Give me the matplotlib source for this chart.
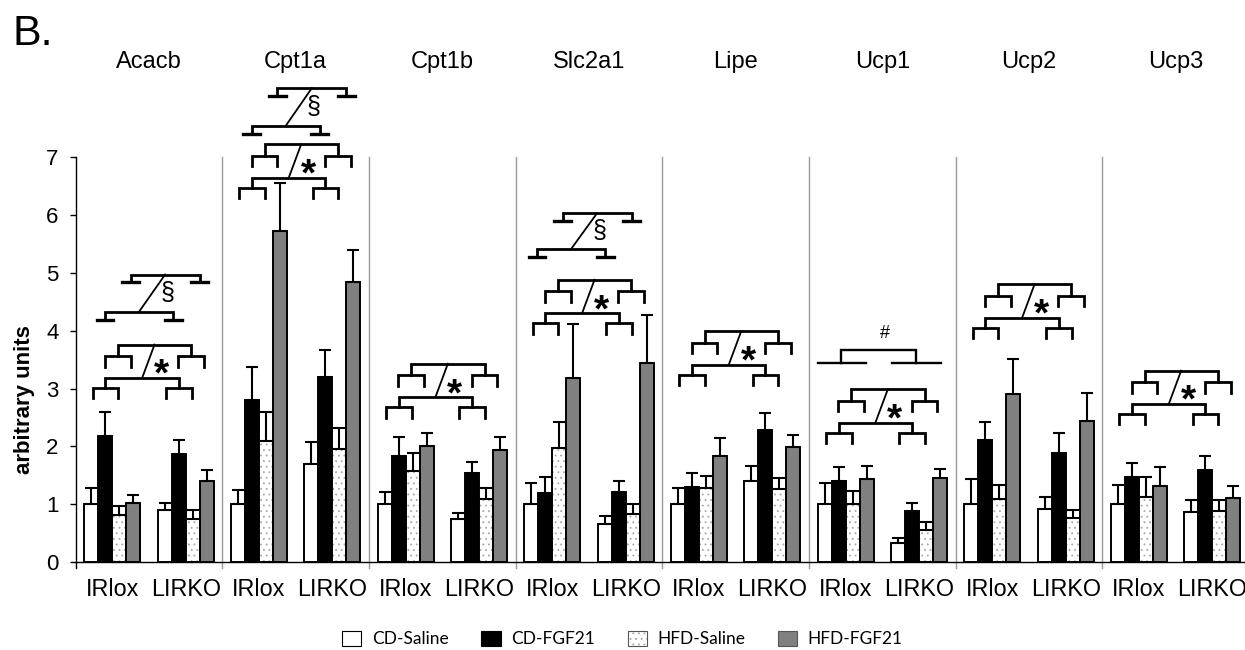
import matplotlib
matplotlib.use("Agg")
import matplotlib.pyplot as plt
import matplotlib.transforms as mtransforms
from matplotlib.patches import Patch
import numpy as np

# ---------------- data ----------------
genes = ["Acacb", "Cpt1a", "Cpt1b", "Slc2a1", "Lipe", "Ucp1", "Ucp2", "Ucp3"]
genotypes = ["IRlox", "LIRKO"]
series_names = ["CD-Saline", "CD-FGF21", "HFD-Saline", "HFD-FGF21"]

# values ordered gene by gene: (IRlox, LIRKO)
cd_saline = [1.00, 0.90, 1.00, 1.69, 1.00, 0.75, 1.00, 0.66,
             1.00, 1.41, 1.00, 0.33, 1.00, 0.92, 1.00, 0.87]
cd_saline_err = [0.28, 0.13, 0.25, 0.38, 0.21, 0.11, 0.37, 0.14,
                 0.28, 0.26, 0.37, 0.09, 0.44, 0.20, 0.34, 0.20]
cd_fgf21 = [2.18, 1.87, 2.80, 3.20, 1.83, 1.55, 1.19, 1.22,
            1.30, 2.28, 1.40, 0.88, 2.11, 1.89, 1.47, 1.59]
cd_fgf21_err = [0.41, 0.24, 0.57, 0.47, 0.33, 0.18, 0.28, 0.18,
                0.25, 0.29, 0.24, 0.15, 0.31, 0.34, 0.25, 0.24]
hfd_saline = [0.82, 0.75, 2.09, 1.96, 1.58, 1.09, 1.97, 0.83,
              1.29, 1.26, 1.00, 0.55, 1.10, 0.76, 1.12, 0.88]
hfd_saline_err = [0.16, 0.15, 0.50, 0.36, 0.30, 0.19, 0.46, 0.18,
                  0.20, 0.19, 0.24, 0.15, 0.24, 0.14, 0.36, 0.19]
hfd_fgf21 = [1.02, 1.41, 5.73, 4.84, 2.01, 1.94, 3.18, 3.44,
             1.84, 1.99, 1.44, 1.45, 2.91, 2.44, 1.31, 1.11]
hfd_fgf21_err = [0.14, 0.18, 0.82, 0.56, 0.22, 0.22, 0.93, 0.83,
                 0.30, 0.21, 0.23, 0.16, 0.60, 0.49, 0.33, 0.21]

# significance annotation levels (data units)
star_levels = [3.01, 6.47, 2.68, 4.13, 3.24, 2.24, 4.05, 2.56]
section_genes = [0, 1, 3]
section_low = [4.33, 7.54, 5.41]
section_high = [4.97, 8.19, 6.03]
hash_gene = 5
hash_level = 3.66

# ---------------- style ----------------
plt.rcParams["font.family"] = ["Liberation Sans", "DejaVu Sans"]
plt.rcParams["hatch.linewidth"] = 0.6

W, H = 1245, 650
fig = plt.figure(figsize=(W / 100, H / 100), dpi=100)
ax = fig.add_axes([75.7 / W, (H - 562.3) / H, 1173.3 / W, 405.3 / H])

n = len(genes) * 2
x = np.arange(n)
bw = 0.191
offs = [-1.5 * bw, -0.5 * bw, 0.5 * bw, 1.5 * bw]
zeros = [0] * n

ax.bar(x + offs[0], cd_saline, bw, color="white", edgecolor="black", lw=1.4, zorder=2)
ax.bar(x + offs[1], cd_fgf21, bw, color="black", edgecolor="black", lw=1.4, zorder=2)
ax.bar(x + offs[2], hfd_saline, bw, color="white", edgecolor="#a8a8a8", hatch="...", lw=0, zorder=2)
ax.bar(x + offs[2], hfd_saline, bw, fill=False, edgecolor="black", lw=1.4, zorder=3)
ax.bar(x + offs[3], hfd_fgf21, bw, color="#808080", edgecolor="black", lw=1.4, zorder=2)

for off, vals, errs in zip(offs, [cd_saline, cd_fgf21, hfd_saline, hfd_fgf21],
                           [cd_saline_err, cd_fgf21_err, hfd_saline_err, hfd_fgf21_err]):
    ax.errorbar(x + off, vals, yerr=[zeros, errs], fmt="none", ecolor="black",
                elinewidth=1.5, capsize=4.6, capthick=1.5, zorder=4)

ax.set_xlim(-0.5, n - 0.5)
ax.set_ylim(0, 7)
ax.set_yticks(range(8))
ax.tick_params(axis="y", direction="out", length=4.3, width=1, labelsize=16, pad=8)
ax.set_xticks(x, genotypes * len(genes))
ax.tick_params(axis="x", length=0, labelsize=16.8, pad=11)
for s in ["top", "right"]:
    ax.spines[s].set_visible(False)
ax.spines["left"].set_linewidth(1)
ax.spines["bottom"].set_linewidth(1)

# group separators
for b in np.arange(1.5, n - 0.5, 2):
    ax.plot([b, b], [-0.1, 7], color="#9a9a9a", lw=1, clip_on=False, zorder=1)
ax.plot([-0.5, -0.5], [-0.1, 0], color="black", lw=1, clip_on=False)

# titles
tr = mtransforms.blended_transform_factory(ax.transData, fig.transFigure)
for g, name in enumerate(genes):
    ax.text(2 * g + 0.5, (H - 68) / H, name, transform=tr, ha="center",
            va="baseline", fontsize=17)

fig.text(12 / W, (H - 45) / H, "B.", fontsize=31, va="baseline", ha="left")
fig.text(25 / W, (H - 400) / H, "arbitrary units", rotation=90, ha="center",
         va="center", fontsize=16, fontweight="bold")


def line(xs, ys, lw=2.0):
    ax.plot(xs, ys, color="black", lw=lw, clip_on=False, zorder=5,
            solid_capstyle="projecting", solid_joinstyle="miter")


def star(g, b):
    xi, xl = 2 * g, 2 * g + 1
    leg = 0.18
    for c in (xi, xl):
        line([c - 0.27, c - 0.27, c + 0.08, c + 0.08], [b - leg, b, b, b - leg])
    lmi, lml = xi - 0.095, xl - 0.095
    line([lmi, lmi, lml, lml], [b, b + 0.17, b + 0.17, b])
    u = b + 0.55
    for c in (xi, xl):
        line([c - 0.10, c - 0.10, c + 0.25, c + 0.25], [u - leg, u, u, u - leg])
    umi, uml = xi + 0.075, xl + 0.075
    line([umi, umi, uml, uml], [u, u + 0.2, u + 0.2, u])
    line([(lmi + lml) / 2, (umi + uml) / 2], [b + 0.17, u + 0.2], lw=1.3)
    ax.annotate("*", xy=(xi + 0.67, b + 0.42), xytext=(0, -16),
                textcoords="offset points", ha="center", va="baseline",
                fontsize=28, fontweight="bold", annotation_clip=False)


def section(g, lo, hi, dx):
    xi = 2 * g
    ft = 0.115
    a0, a1 = xi - 0.10 + dx, xi + 0.83 + dx
    line([a0, a0, a1, a1], [lo - 0.14, lo, lo, lo - 0.14])
    for a in (a0, a1):
        line([a - ft, a + ft], [lo - 0.14, lo - 0.14], lw=2.4)
    b0, b1 = xi + 0.25 + dx, xi + 1.19 + dx
    line([b0, b0, b1, b1], [hi - 0.13, hi, hi, hi - 0.13])
    for a in (b0, b1):
        line([a - ft, a + ft], [hi - 0.13, hi - 0.13], lw=2.4)
    line([(a0 + a1) / 2, (b0 + b1) / 2], [lo, hi], lw=1.3)
    ax.text((b0 + b1) / 2 + 0.03, (lo + hi) / 2, "\u00a7", ha="center",
            va="center", fontsize=18, clip_on=False)


def hash_mark(g, lvl):
    xi, xl = 2 * g, 2 * g + 1
    l0, l1 = xi - 0.057, xl - 0.044
    d = 0.21
    line([l0, l0, l1, l1], [lvl - d, lvl, lvl, lvl - d], lw=1.7)
    for a in (l0, l1):
        line([a - 0.32, a + 0.34], [lvl - d, lvl - d], lw=1.7)
    ax.text(xi + 0.54, lvl + 0.29, "#", ha="center", va="center", fontsize=13,
            clip_on=False)


for g, b in enumerate(star_levels):
    star(g, b)
for g, lo, hi in zip(section_genes, section_low, section_high):
    section(g, lo, hi, -0.11 if g == 3 else 0.0)
hash_mark(hash_gene, hash_level)

# legend
handles = [
    Patch(facecolor="white", edgecolor="black", lw=0.8),
    Patch(facecolor="black", edgecolor="black", lw=0.8),
    (Patch(facecolor="white", edgecolor="#a8a8a8", hatch="...", lw=0),
     Patch(fill=False, edgecolor="#555555", lw=0.8)),
    Patch(facecolor="#808080", edgecolor="#555555", lw=0.8),
]
fig.legend(handles, series_names, loc="center", bbox_to_anchor=(0.5, (H - 639) / H),
           ncol=4, frameon=False, prop={"family": "Lato", "size": 12.5},
           handlelength=1.1, handleheight=1.0, columnspacing=1.9,
           handletextpad=0.6, borderpad=0, borderaxespad=0)

fig.savefig("out.png", dpi=100)
